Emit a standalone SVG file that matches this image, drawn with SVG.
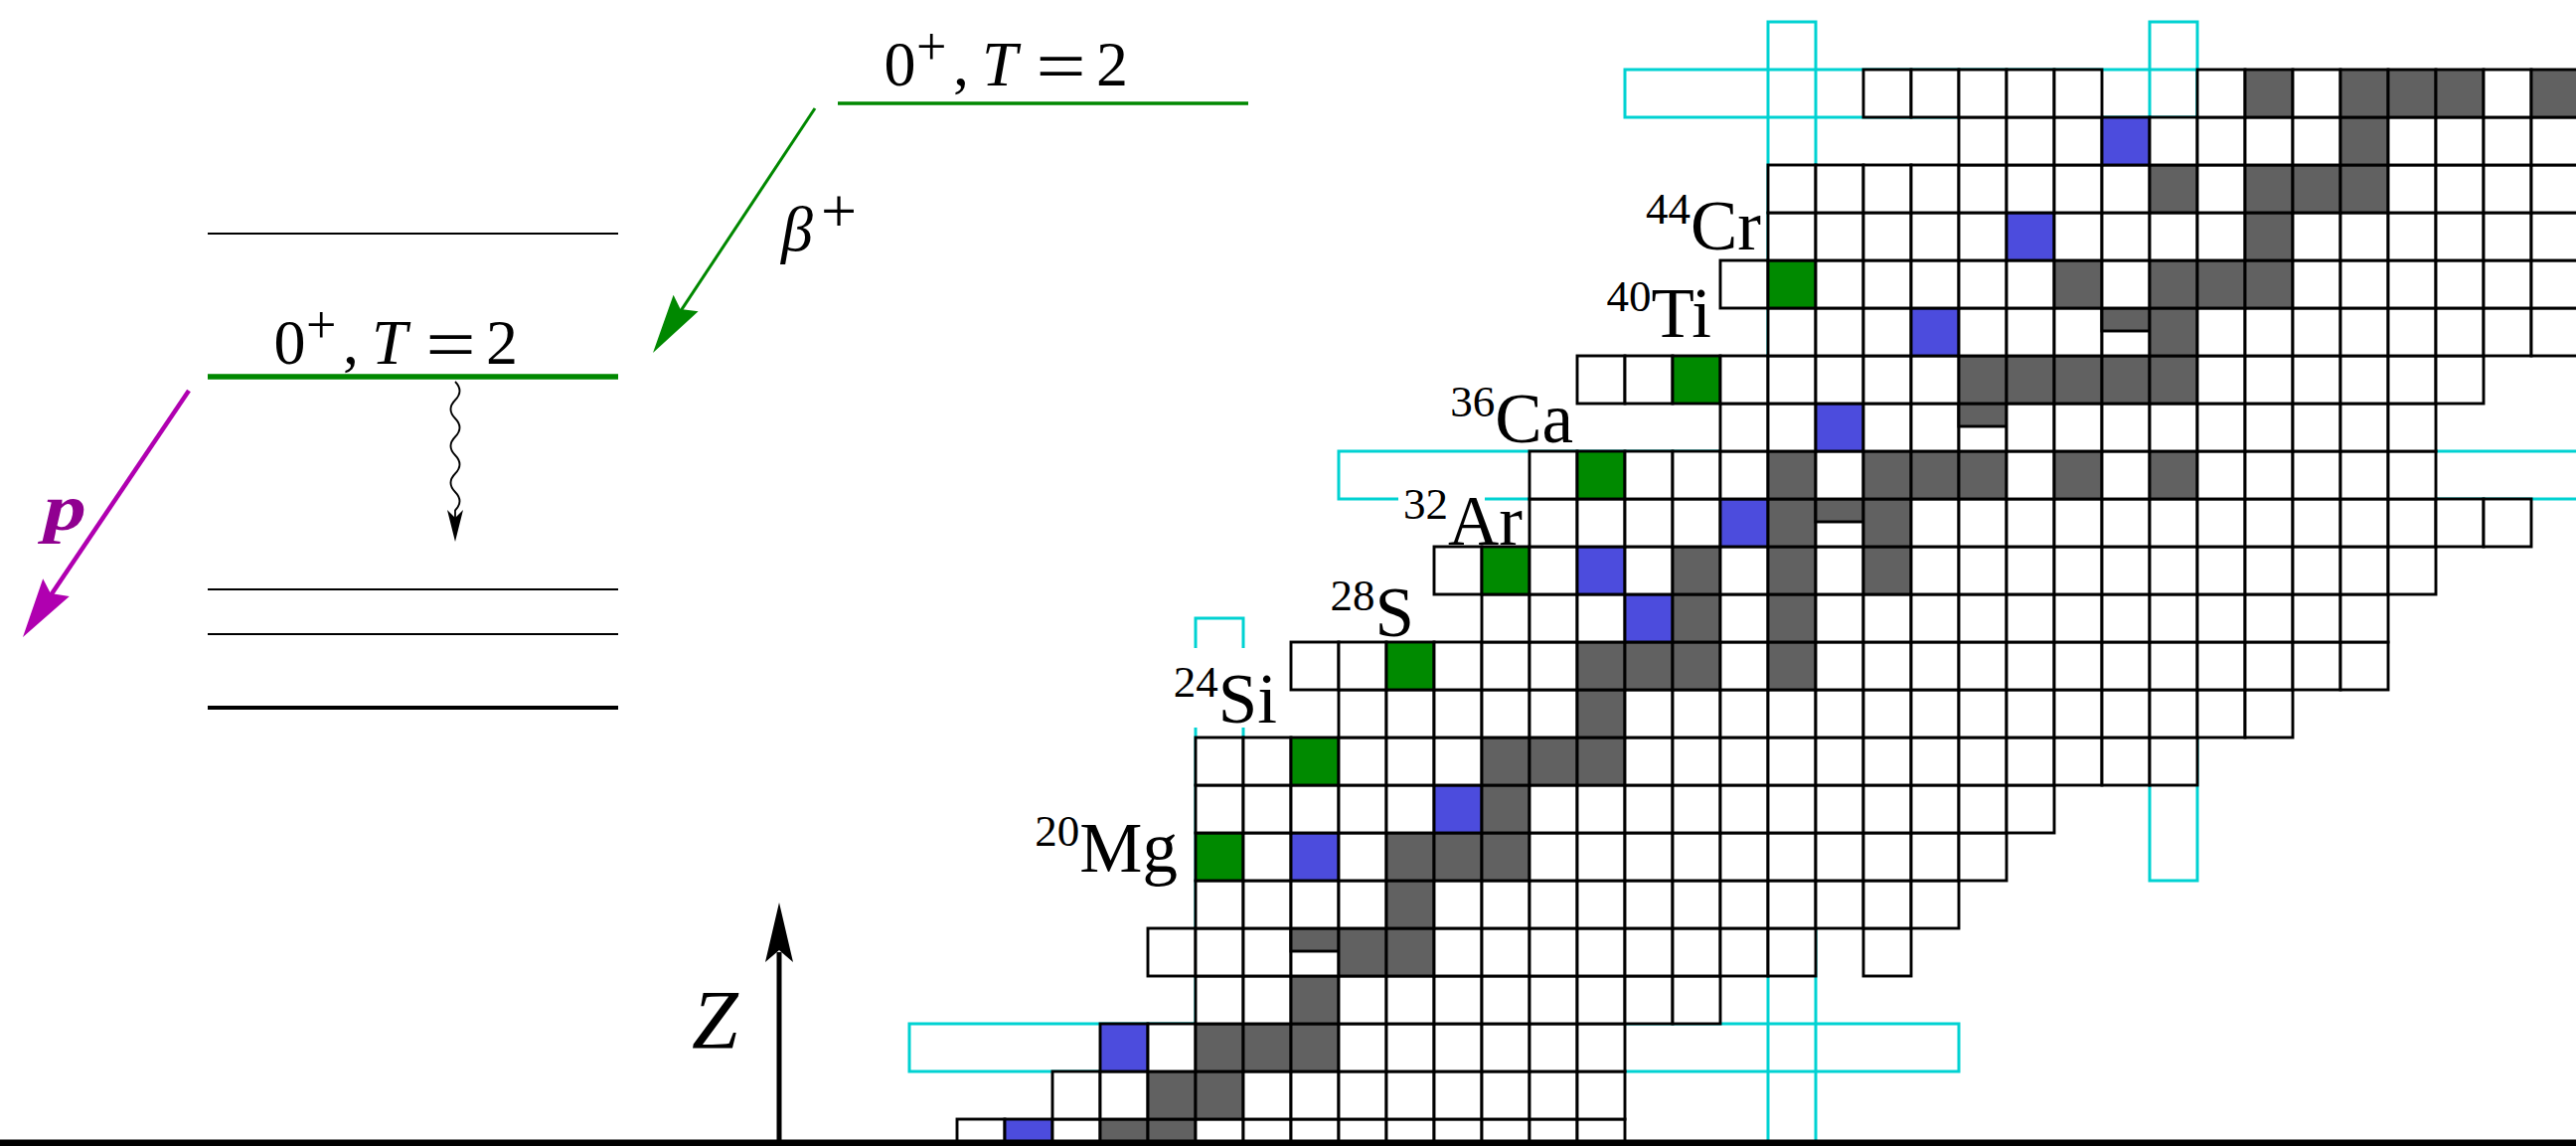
<svg xmlns="http://www.w3.org/2000/svg" xmlns:xlink="http://www.w3.org/1999/xlink" width="2592" height="1153" viewBox="0 0 2592 1153">
<style>
.w{fill:#fff;stroke:#000;stroke-width:2.9}
.g{fill:#616161;stroke:#000;stroke-width:2.9}
.b{fill:#4c4cdd;stroke:#000;stroke-width:2.9}
.n{fill:#008a00;stroke:#000;stroke-width:2.9}
.cy{fill:none;stroke:#00d2d2;stroke-width:3}
.lab{font-family:"Liberation Serif","Times New Roman",serif;font-size:71px;fill:#000}
.lv{font-family:"Liberation Serif","Times New Roman",serif;font-size:64px;fill:#000}
</style>
<defs>
<rect id="W" width="48" height="48" class="w"/>
<rect id="G" width="48" height="48" class="g"/>
<rect id="B" width="48" height="48" class="b"/>
<rect id="N" width="48" height="48" class="n"/>
<g id="H"><rect width="48" height="48" class="w"/><rect width="48" height="23" class="g"/></g>
</defs>
<rect width="2592" height="1153" fill="#fff"/>

<g id="magic-strips">
<rect class="cy" x="1779" y="22" width="48" height="1140"/>
<rect class="cy" x="2163" y="22" width="48" height="864"/>
<rect class="cy" x="1635" y="70" width="576" height="48"/>
<rect class="cy" x="1347" y="454" width="1300" height="48"/>
<rect class="cy" x="915" y="1030" width="1056" height="48"/>
<rect class="cy" x="1203" y="622" width="48" height="540"/>
</g>

<g id="chart">
<g id="row0">
<use href="#W" x="963" y="1126"/><use href="#B" x="1011" y="1126"/><use href="#W" x="1059" y="1126"/><use href="#G" x="1107" y="1126"/><use href="#G" x="1155" y="1126"/><use href="#W" x="1203" y="1126"/><use href="#W" x="1251" y="1126"/><use href="#W" x="1299" y="1126"/><use href="#W" x="1347" y="1126"/><use href="#W" x="1395" y="1126"/><use href="#W" x="1443" y="1126"/><use href="#W" x="1491" y="1126"/><use href="#W" x="1539" y="1126"/><use href="#W" x="1587" y="1126"/>
</g>
<g id="row1">
<use href="#W" x="1059" y="1078"/><use href="#W" x="1107" y="1078"/><use href="#G" x="1155" y="1078"/><use href="#G" x="1203" y="1078"/><use href="#W" x="1251" y="1078"/><use href="#W" x="1299" y="1078"/><use href="#W" x="1347" y="1078"/><use href="#W" x="1395" y="1078"/><use href="#W" x="1443" y="1078"/><use href="#W" x="1491" y="1078"/><use href="#W" x="1539" y="1078"/><use href="#W" x="1587" y="1078"/>
</g>
<g id="row2">
<use href="#B" x="1107" y="1030"/><use href="#W" x="1155" y="1030"/><use href="#G" x="1203" y="1030"/><use href="#G" x="1251" y="1030"/><use href="#G" x="1299" y="1030"/><use href="#W" x="1347" y="1030"/><use href="#W" x="1395" y="1030"/><use href="#W" x="1443" y="1030"/><use href="#W" x="1491" y="1030"/><use href="#W" x="1539" y="1030"/><use href="#W" x="1587" y="1030"/>
</g>
<g id="row3">
<use href="#W" x="1203" y="982"/><use href="#W" x="1251" y="982"/><use href="#G" x="1299" y="982"/><use href="#W" x="1347" y="982"/><use href="#W" x="1395" y="982"/><use href="#W" x="1443" y="982"/><use href="#W" x="1491" y="982"/><use href="#W" x="1539" y="982"/><use href="#W" x="1587" y="982"/><use href="#W" x="1635" y="982"/><use href="#W" x="1683" y="982"/>
</g>
<g id="row4">
<use href="#W" x="1155" y="934"/><use href="#W" x="1203" y="934"/><use href="#W" x="1251" y="934"/><use href="#H" x="1299" y="934"/><use href="#G" x="1347" y="934"/><use href="#G" x="1395" y="934"/><use href="#W" x="1443" y="934"/><use href="#W" x="1491" y="934"/><use href="#W" x="1539" y="934"/><use href="#W" x="1587" y="934"/><use href="#W" x="1635" y="934"/><use href="#W" x="1683" y="934"/><use href="#W" x="1731" y="934"/><use href="#W" x="1779" y="934"/><use href="#W" x="1875" y="934"/>
</g>
<g id="row5">
<use href="#W" x="1203" y="886"/><use href="#W" x="1251" y="886"/><use href="#W" x="1299" y="886"/><use href="#W" x="1347" y="886"/><use href="#G" x="1395" y="886"/><use href="#W" x="1443" y="886"/><use href="#W" x="1491" y="886"/><use href="#W" x="1539" y="886"/><use href="#W" x="1587" y="886"/><use href="#W" x="1635" y="886"/><use href="#W" x="1683" y="886"/><use href="#W" x="1731" y="886"/><use href="#W" x="1779" y="886"/><use href="#W" x="1827" y="886"/><use href="#W" x="1875" y="886"/><use href="#W" x="1923" y="886"/>
</g>
<g id="row6">
<use href="#N" x="1203" y="838"/><use href="#W" x="1251" y="838"/><use href="#B" x="1299" y="838"/><use href="#W" x="1347" y="838"/><use href="#G" x="1395" y="838"/><use href="#G" x="1443" y="838"/><use href="#G" x="1491" y="838"/><use href="#W" x="1539" y="838"/><use href="#W" x="1587" y="838"/><use href="#W" x="1635" y="838"/><use href="#W" x="1683" y="838"/><use href="#W" x="1731" y="838"/><use href="#W" x="1779" y="838"/><use href="#W" x="1827" y="838"/><use href="#W" x="1875" y="838"/><use href="#W" x="1923" y="838"/><use href="#W" x="1971" y="838"/>
</g>
<g id="row7">
<use href="#W" x="1203" y="790"/><use href="#W" x="1251" y="790"/><use href="#W" x="1299" y="790"/><use href="#W" x="1347" y="790"/><use href="#W" x="1395" y="790"/><use href="#B" x="1443" y="790"/><use href="#G" x="1491" y="790"/><use href="#W" x="1539" y="790"/><use href="#W" x="1587" y="790"/><use href="#W" x="1635" y="790"/><use href="#W" x="1683" y="790"/><use href="#W" x="1731" y="790"/><use href="#W" x="1779" y="790"/><use href="#W" x="1827" y="790"/><use href="#W" x="1875" y="790"/><use href="#W" x="1923" y="790"/><use href="#W" x="1971" y="790"/><use href="#W" x="2019" y="790"/>
</g>
<g id="row8">
<use href="#W" x="1203" y="742"/><use href="#W" x="1251" y="742"/><use href="#N" x="1299" y="742"/><use href="#W" x="1347" y="742"/><use href="#W" x="1395" y="742"/><use href="#W" x="1443" y="742"/><use href="#G" x="1491" y="742"/><use href="#G" x="1539" y="742"/><use href="#G" x="1587" y="742"/><use href="#W" x="1635" y="742"/><use href="#W" x="1683" y="742"/><use href="#W" x="1731" y="742"/><use href="#W" x="1779" y="742"/><use href="#W" x="1827" y="742"/><use href="#W" x="1875" y="742"/><use href="#W" x="1923" y="742"/><use href="#W" x="1971" y="742"/><use href="#W" x="2019" y="742"/><use href="#W" x="2067" y="742"/><use href="#W" x="2115" y="742"/><use href="#W" x="2163" y="742"/>
</g>
<g id="row9">
<use href="#W" x="1347" y="694"/><use href="#W" x="1395" y="694"/><use href="#W" x="1443" y="694"/><use href="#W" x="1491" y="694"/><use href="#W" x="1539" y="694"/><use href="#G" x="1587" y="694"/><use href="#W" x="1635" y="694"/><use href="#W" x="1683" y="694"/><use href="#W" x="1731" y="694"/><use href="#W" x="1779" y="694"/><use href="#W" x="1827" y="694"/><use href="#W" x="1875" y="694"/><use href="#W" x="1923" y="694"/><use href="#W" x="1971" y="694"/><use href="#W" x="2019" y="694"/><use href="#W" x="2067" y="694"/><use href="#W" x="2115" y="694"/><use href="#W" x="2163" y="694"/><use href="#W" x="2211" y="694"/><use href="#W" x="2259" y="694"/>
</g>
<g id="row10">
<use href="#W" x="1299" y="646"/><use href="#W" x="1347" y="646"/><use href="#N" x="1395" y="646"/><use href="#W" x="1443" y="646"/><use href="#W" x="1491" y="646"/><use href="#W" x="1539" y="646"/><use href="#G" x="1587" y="646"/><use href="#G" x="1635" y="646"/><use href="#G" x="1683" y="646"/><use href="#W" x="1731" y="646"/><use href="#G" x="1779" y="646"/><use href="#W" x="1827" y="646"/><use href="#W" x="1875" y="646"/><use href="#W" x="1923" y="646"/><use href="#W" x="1971" y="646"/><use href="#W" x="2019" y="646"/><use href="#W" x="2067" y="646"/><use href="#W" x="2115" y="646"/><use href="#W" x="2163" y="646"/><use href="#W" x="2211" y="646"/><use href="#W" x="2259" y="646"/><use href="#W" x="2307" y="646"/><use href="#W" x="2355" y="646"/>
</g>
<g id="row11">
<use href="#W" x="1491" y="598"/><use href="#W" x="1539" y="598"/><use href="#W" x="1587" y="598"/><use href="#B" x="1635" y="598"/><use href="#G" x="1683" y="598"/><use href="#W" x="1731" y="598"/><use href="#G" x="1779" y="598"/><use href="#W" x="1827" y="598"/><use href="#W" x="1875" y="598"/><use href="#W" x="1923" y="598"/><use href="#W" x="1971" y="598"/><use href="#W" x="2019" y="598"/><use href="#W" x="2067" y="598"/><use href="#W" x="2115" y="598"/><use href="#W" x="2163" y="598"/><use href="#W" x="2211" y="598"/><use href="#W" x="2259" y="598"/><use href="#W" x="2307" y="598"/><use href="#W" x="2355" y="598"/>
</g>
<g id="row12">
<use href="#W" x="1443" y="550"/><use href="#N" x="1491" y="550"/><use href="#W" x="1539" y="550"/><use href="#B" x="1587" y="550"/><use href="#W" x="1635" y="550"/><use href="#G" x="1683" y="550"/><use href="#W" x="1731" y="550"/><use href="#G" x="1779" y="550"/><use href="#W" x="1827" y="550"/><use href="#G" x="1875" y="550"/><use href="#W" x="1923" y="550"/><use href="#W" x="1971" y="550"/><use href="#W" x="2019" y="550"/><use href="#W" x="2067" y="550"/><use href="#W" x="2115" y="550"/><use href="#W" x="2163" y="550"/><use href="#W" x="2211" y="550"/><use href="#W" x="2259" y="550"/><use href="#W" x="2307" y="550"/><use href="#W" x="2355" y="550"/><use href="#W" x="2403" y="550"/>
</g>
<g id="row13">
<use href="#W" x="1539" y="502"/><use href="#W" x="1587" y="502"/><use href="#W" x="1635" y="502"/><use href="#W" x="1683" y="502"/><use href="#B" x="1731" y="502"/><use href="#G" x="1779" y="502"/><use href="#H" x="1827" y="502"/><use href="#G" x="1875" y="502"/><use href="#W" x="1923" y="502"/><use href="#W" x="1971" y="502"/><use href="#W" x="2019" y="502"/><use href="#W" x="2067" y="502"/><use href="#W" x="2115" y="502"/><use href="#W" x="2163" y="502"/><use href="#W" x="2211" y="502"/><use href="#W" x="2259" y="502"/><use href="#W" x="2307" y="502"/><use href="#W" x="2355" y="502"/><use href="#W" x="2403" y="502"/><use href="#W" x="2451" y="502"/><use href="#W" x="2499" y="502"/>
</g>
<g id="row14">
<use href="#W" x="1539" y="454"/><use href="#N" x="1587" y="454"/><use href="#W" x="1635" y="454"/><use href="#W" x="1683" y="454"/><use href="#W" x="1731" y="454"/><use href="#G" x="1779" y="454"/><use href="#W" x="1827" y="454"/><use href="#G" x="1875" y="454"/><use href="#G" x="1923" y="454"/><use href="#G" x="1971" y="454"/><use href="#W" x="2019" y="454"/><use href="#G" x="2067" y="454"/><use href="#W" x="2115" y="454"/><use href="#G" x="2163" y="454"/><use href="#W" x="2211" y="454"/><use href="#W" x="2259" y="454"/><use href="#W" x="2307" y="454"/><use href="#W" x="2355" y="454"/><use href="#W" x="2403" y="454"/>
</g>
<g id="row15">
<use href="#W" x="1731" y="406"/><use href="#W" x="1779" y="406"/><use href="#B" x="1827" y="406"/><use href="#W" x="1875" y="406"/><use href="#W" x="1923" y="406"/><use href="#H" x="1971" y="406"/><use href="#W" x="2019" y="406"/><use href="#W" x="2067" y="406"/><use href="#W" x="2115" y="406"/><use href="#W" x="2163" y="406"/><use href="#W" x="2211" y="406"/><use href="#W" x="2259" y="406"/><use href="#W" x="2307" y="406"/><use href="#W" x="2355" y="406"/><use href="#W" x="2403" y="406"/>
</g>
<g id="row16">
<use href="#W" x="1587" y="358"/><use href="#W" x="1635" y="358"/><use href="#N" x="1683" y="358"/><use href="#W" x="1731" y="358"/><use href="#W" x="1779" y="358"/><use href="#W" x="1827" y="358"/><use href="#W" x="1875" y="358"/><use href="#W" x="1923" y="358"/><use href="#G" x="1971" y="358"/><use href="#G" x="2019" y="358"/><use href="#G" x="2067" y="358"/><use href="#G" x="2115" y="358"/><use href="#G" x="2163" y="358"/><use href="#W" x="2211" y="358"/><use href="#W" x="2259" y="358"/><use href="#W" x="2307" y="358"/><use href="#W" x="2355" y="358"/><use href="#W" x="2403" y="358"/><use href="#W" x="2451" y="358"/>
</g>
<g id="row17">
<use href="#W" x="1779" y="310"/><use href="#W" x="1827" y="310"/><use href="#W" x="1875" y="310"/><use href="#B" x="1923" y="310"/><use href="#W" x="1971" y="310"/><use href="#W" x="2019" y="310"/><use href="#W" x="2067" y="310"/><use href="#H" x="2115" y="310"/><use href="#G" x="2163" y="310"/><use href="#W" x="2211" y="310"/><use href="#W" x="2259" y="310"/><use href="#W" x="2307" y="310"/><use href="#W" x="2355" y="310"/><use href="#W" x="2403" y="310"/><use href="#W" x="2451" y="310"/><use href="#W" x="2499" y="310"/><use href="#W" x="2547" y="310"/>
</g>
<g id="row18">
<use href="#W" x="1731" y="262"/><use href="#N" x="1779" y="262"/><use href="#W" x="1827" y="262"/><use href="#W" x="1875" y="262"/><use href="#W" x="1923" y="262"/><use href="#W" x="1971" y="262"/><use href="#W" x="2019" y="262"/><use href="#G" x="2067" y="262"/><use href="#W" x="2115" y="262"/><use href="#G" x="2163" y="262"/><use href="#G" x="2211" y="262"/><use href="#G" x="2259" y="262"/><use href="#W" x="2307" y="262"/><use href="#W" x="2355" y="262"/><use href="#W" x="2403" y="262"/><use href="#W" x="2451" y="262"/><use href="#W" x="2499" y="262"/><use href="#W" x="2547" y="262"/>
</g>
<g id="row19">
<use href="#W" x="1779" y="214"/><use href="#W" x="1827" y="214"/><use href="#W" x="1875" y="214"/><use href="#W" x="1923" y="214"/><use href="#W" x="1971" y="214"/><use href="#B" x="2019" y="214"/><use href="#W" x="2067" y="214"/><use href="#W" x="2115" y="214"/><use href="#W" x="2163" y="214"/><use href="#W" x="2211" y="214"/><use href="#G" x="2259" y="214"/><use href="#W" x="2307" y="214"/><use href="#W" x="2355" y="214"/><use href="#W" x="2403" y="214"/><use href="#W" x="2451" y="214"/><use href="#W" x="2499" y="214"/><use href="#W" x="2547" y="214"/>
</g>
<g id="row20">
<use href="#W" x="1779" y="166"/><use href="#W" x="1827" y="166"/><use href="#W" x="1875" y="166"/><use href="#W" x="1923" y="166"/><use href="#W" x="1971" y="166"/><use href="#W" x="2019" y="166"/><use href="#W" x="2067" y="166"/><use href="#W" x="2115" y="166"/><use href="#G" x="2163" y="166"/><use href="#W" x="2211" y="166"/><use href="#G" x="2259" y="166"/><use href="#G" x="2307" y="166"/><use href="#G" x="2355" y="166"/><use href="#W" x="2403" y="166"/><use href="#W" x="2451" y="166"/><use href="#W" x="2499" y="166"/><use href="#W" x="2547" y="166"/>
</g>
<g id="row21">
<use href="#W" x="1971" y="118"/><use href="#W" x="2019" y="118"/><use href="#W" x="2067" y="118"/><use href="#B" x="2115" y="118"/><use href="#W" x="2163" y="118"/><use href="#W" x="2211" y="118"/><use href="#W" x="2259" y="118"/><use href="#W" x="2307" y="118"/><use href="#G" x="2355" y="118"/><use href="#W" x="2403" y="118"/><use href="#W" x="2451" y="118"/><use href="#W" x="2499" y="118"/><use href="#W" x="2547" y="118"/>
</g>
<g id="row22">
<use href="#W" x="1875" y="70"/><use href="#W" x="1923" y="70"/><use href="#W" x="1971" y="70"/><use href="#W" x="2019" y="70"/><use href="#W" x="2067" y="70"/><use href="#W" x="2211" y="70"/><use href="#G" x="2259" y="70"/><use href="#W" x="2307" y="70"/><use href="#G" x="2355" y="70"/><use href="#G" x="2403" y="70"/><use href="#G" x="2451" y="70"/><use href="#W" x="2499" y="70"/><use href="#G" x="2547" y="70"/>
</g>
</g>

<g id="nuclide-labels">
<rect x="1180" y="652" width="110" height="80" fill="#fff"/>
<rect x="1407" y="499" width="87" height="10" fill="#fff"/>
<text class="lab" x="1185" y="877" text-anchor="end"><tspan font-size="45" dy="-26">20</tspan><tspan dy="26">Mg</tspan></text>
<text class="lab" x="1285" y="727" text-anchor="end"><tspan font-size="45" dy="-26">24</tspan><tspan dy="26">Si</tspan></text>
<text class="lab" x="1423" y="640" text-anchor="end"><tspan font-size="45" dy="-26">28</tspan><tspan dy="26">S</tspan></text>
<text class="lab" x="1532" y="548" text-anchor="end"><tspan font-size="45" dy="-26">32</tspan><tspan dy="26">Ar</tspan></text>
<text class="lab" x="1583" y="445" text-anchor="end"><tspan font-size="45" dy="-26">36</tspan><tspan dy="26">Ca</tspan></text>
<text class="lab" x="1722" y="339" text-anchor="end"><tspan font-size="45" dy="-26">40</tspan><tspan dy="26">Ti</tspan></text>
<text class="lab" x="1772" y="251" text-anchor="end"><tspan font-size="45" dy="-26">44</tspan><tspan dy="26">Cr</tspan></text>
</g>

<g id="levels">
<line x1="843" y1="104" x2="1256" y2="104" stroke="#008800" stroke-width="3.5"/>
<line x1="209" y1="235" x2="622" y2="235" stroke="#000" stroke-width="1.8"/>
<line x1="209" y1="379" x2="622" y2="379" stroke="#008800" stroke-width="5.5"/>
<line x1="209" y1="593" x2="622" y2="593" stroke="#000" stroke-width="1.8"/>
<line x1="209" y1="638" x2="622" y2="638" stroke="#000" stroke-width="1.8"/>
<line x1="209" y1="712" x2="622" y2="712" stroke="#000" stroke-width="4"/>
<text class="lv" y="86"><tspan x="889.5">0</tspan><tspan x="922" y="65" font-size="54">+</tspan><tspan x="959" y="86">,</tspan><tspan x="988" font-style="italic">T</tspan><tspan x="1103">2</tspan></text>
<text class="lv" transform="translate(1045,91) scale(1.4,1.15)" x="-2" y="0">=</text>
<text class="lv" y="366"><tspan x="275.5">0</tspan><tspan x="308" y="345" font-size="54">+</tspan><tspan x="345" y="366">,</tspan><tspan x="374" font-style="italic">T</tspan><tspan x="489">2</tspan></text>
<text class="lv" transform="translate(431,371) scale(1.4,1.15)" x="-2" y="0">=</text>
</g>

<g id="connectors">
<path d="M820,109 L684.6,313.3" stroke="#008800" stroke-width="3" fill="none"/>
<path d="M657,355 L677.6,296.7 L684.6,311 L702.6,313.3 Z" fill="#008800"/>
<path d="M190,393 L51,599" stroke="#b000b0" stroke-width="4.5" fill="none"/>
<path d="M23,641 L43.2,582.3 L50.9,597 L69.8,600.1 Z" fill="#b000b0"/>
<path d="M458,384 q9,9.25 0,18.5 t0,18.5 t0,18.5 t0,18.5 t0,18.5 t0,18.5 t0,18.5 L458,522" stroke="#000" stroke-width="1.8" fill="none"/>
<path d="M458,545 L450,513 L458,521 L466,513 Z" fill="#000"/>
<path d="M784,1147 L784,958" stroke="#000" stroke-width="5" fill="none"/>
<path d="M784,908 L770,968 L784,956 L798,968 Z" fill="#000"/>
</g>

<g id="decay-labels">
<text class="lv" x="786" y="252" font-size="82" font-style="italic">β</text>
<text class="lv" x="826" y="234" font-size="60">+</text>
<text transform="translate(44,533) scale(1.3,1)" font-family="'Liberation Serif',serif" font-size="66" font-weight="bold" font-style="italic" fill="#900090">p</text>
<text x="696" y="1055" font-family="'Liberation Serif',serif" font-size="84" font-style="italic" fill="#000">Z</text>
</g>

<rect id="axis" x="0" y="1146.5" width="2592" height="7" fill="#000"/>
</svg>
